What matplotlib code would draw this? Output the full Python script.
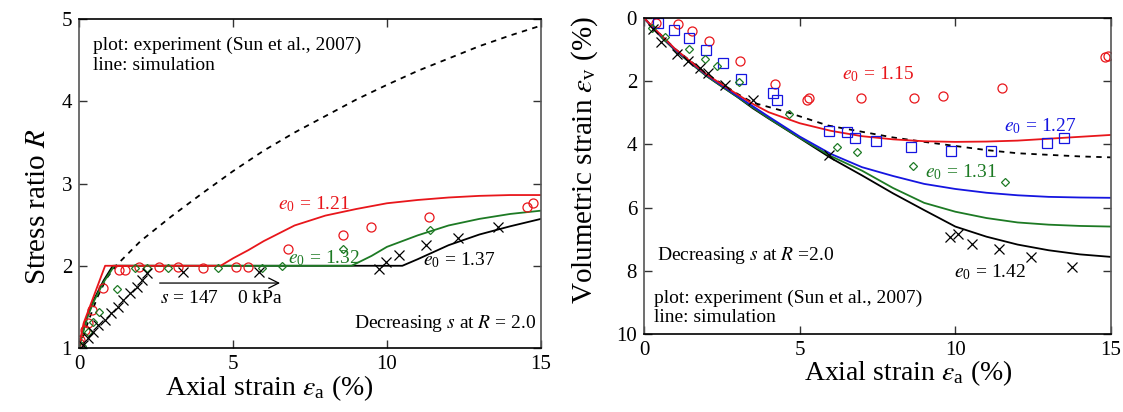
import numpy as np
import matplotlib
matplotlib.use("Agg")
import matplotlib.pyplot as plt

plt.rcParams['font.family'] = ['Liberation Serif', 'DejaVu Serif']
plt.rcParams['mathtext.fontset'] = 'stix'

RED = '#e8161b'
GREEN = '#1d7a24'
BLUE = '#1515e0'

# ---------------- left panel: stress ratio ----------------
# simulation lines
dash_x = [0, 0.3, 0.6, 0.9, 1.2, 2, 3, 4, 5, 6, 7, 8, 9, 10, 11, 12, 13, 14, 15]
dash_r = [1, 1.32, 1.62, 1.85, 2.0, 2.3, 2.6, 2.88, 3.15, 3.4, 3.62, 3.82, 4.02, 4.2, 4.37, 4.52, 4.67, 4.8, 4.92]

red_x = [0, 0.05, 0.15, 0.35, 0.6, 0.85, 4.6, 5.0, 5.5, 6, 7, 8, 9, 10, 11, 12, 13, 14, 15]
red_r = [1, 1.12, 1.3, 1.5, 1.75, 2.0, 2.0, 2.09, 2.19, 2.3, 2.49, 2.61, 2.69, 2.76, 2.8, 2.83, 2.85, 2.86, 2.86]

grn_x = [0, 0.1, 0.3, 0.5, 0.8, 1.15, 8.85, 9.5, 10, 11, 11.5, 12, 13, 14, 15]
grn_r = [1, 1.15, 1.4, 1.58, 1.8, 2.0, 2.0, 2.12, 2.23, 2.37, 2.43, 2.49, 2.57, 2.63, 2.67]

blk_x = [0, 0.1, 0.3, 0.5, 0.8, 1.1, 10.5, 11, 12, 13, 14, 15]
blk_r = [1, 1.16, 1.42, 1.6, 1.82, 2.0, 2.0, 2.08, 2.25, 2.38, 2.48, 2.57]

# experiment points
exp121_x = [0.0, 0.05, 0.2, 0.3, 0.42, 0.77, 1.3, 1.5, 1.95, 2.6, 3.2, 4.03, 5.1, 5.5, 6.8, 8.57, 9.48, 11.36, 14.55, 14.75]
exp121_r = [1.06, 1.1, 1.22, 1.3, 1.46, 1.73, 1.95, 1.95, 1.98, 1.98, 1.98, 1.97, 1.98, 1.98, 2.2, 2.38, 2.47, 2.59, 2.72, 2.76]

exp132_x = [0.1, 0.29, 0.45, 0.65, 1.23, 1.82, 2.2, 2.9, 4.5, 5.95, 6.6, 8.57, 11.4]
exp132_r = [1.03, 1.2, 1.32, 1.44, 1.72, 1.97, 1.97, 1.97, 1.97, 1.97, 2.0, 2.2, 2.43]

exp137_x = [0.13, 0.29, 0.45, 0.62, 0.84, 1.04, 1.27, 1.43, 1.66, 1.88, 2.05, 2.21, 3.38, 5.85, 9.74, 9.96, 10.39, 11.27, 12.3, 13.6]
exp137_r = [1.04, 1.12, 1.2, 1.28, 1.34, 1.42, 1.5, 1.58, 1.67, 1.74, 1.83, 1.91, 1.92, 1.92, 1.96, 2.05, 2.13, 2.25, 2.34, 2.47]

# ---------------- right panel: volumetric strain ----------------
v_dash_x = [0, 0.3, 1, 2, 3, 3.5, 4.5, 5.9, 7, 8, 9, 10, 11, 12, 13, 14, 15]
v_dash = [0, 0.3, 0.98, 1.76, 2.4, 2.68, 2.95, 3.4, 3.6, 3.78, 3.92, 4.05, 4.18, 4.28, 4.33, 4.38, 4.41]

v_red_x = [0, 0.3, 1, 2, 2.5, 3, 3.5, 4, 5, 6, 7, 8, 9, 10, 11, 12, 13, 14, 15]
v_red = [0, 0.3, 0.98, 1.78, 2.1, 2.42, 2.72, 2.98, 3.33, 3.57, 3.74, 3.84, 3.9, 3.92, 3.91, 3.88, 3.82, 3.76, 3.7]

v_blue_x = [0, 0.3, 1, 2, 3, 4, 5, 6, 7, 8, 9, 10, 11, 12, 13, 14, 15]
v_blue = [0, 0.32, 1.0, 1.8, 2.47, 3.12, 3.75, 4.3, 4.72, 5.0, 5.25, 5.41, 5.53, 5.61, 5.66, 5.68, 5.69]

v_grn_x = [0, 0.3, 1, 2, 3, 4, 5, 6, 7, 8, 9, 10, 11, 12, 13, 14, 15]
v_grn = [0, 0.33, 1.02, 1.83, 2.5, 3.17, 3.79, 4.37, 4.83, 5.38, 5.85, 6.13, 6.33, 6.47, 6.54, 6.58, 6.6]

v_blk_x = [0, 0.3, 0.6, 1, 1.5, 2, 2.5, 3, 3.5, 4, 5, 6, 7, 8, 9, 10, 11, 12, 13, 14, 15]
v_blk = [0, 0.33, 0.65, 1.02, 1.43, 1.83, 2.17, 2.5, 2.86, 3.18, 3.8, 4.43, 4.98, 5.55, 6.08, 6.6, 6.92, 7.17, 7.35, 7.48, 7.56]

v115_x = [0.38, 1.08, 1.55, 2.1, 3.07, 4.2, 5.24, 5.3, 6.96, 8.68, 9.6, 11.5, 14.8, 14.9]
v115 = [0.15, 0.2, 0.41, 0.74, 1.36, 2.1, 2.6, 2.52, 2.54, 2.54, 2.47, 2.23, 1.24, 1.2]

v127_x = [0.45, 0.96, 1.45, 1.99, 2.54, 3.13, 4.15, 4.28, 5.95, 6.53, 6.78, 7.46, 8.58, 9.87, 11.13, 12.93, 13.5]
v127 = [0.16, 0.38, 0.64, 1.01, 1.43, 1.93, 2.38, 2.59, 3.58, 3.61, 3.8, 3.9, 4.08, 4.2, 4.2, 3.95, 3.81]

v131_x = [0.26, 0.68, 1.45, 1.96, 2.35, 3.05, 4.66, 6.2, 6.85, 8.65, 11.6]
v131 = [0.32, 0.6, 0.98, 1.3, 1.52, 2.03, 3.04, 4.08, 4.24, 4.68, 5.19]

v142_x = [0.29, 0.55, 1.06, 1.41, 1.8, 2.06, 2.6, 3.5, 5.95, 9.82, 10.07, 10.52, 11.39, 12.44, 13.76]
v142 = [0.35, 0.76, 1.14, 1.36, 1.58, 1.74, 2.12, 2.6, 4.34, 6.93, 6.84, 7.15, 7.31, 7.56, 7.88]

fig = plt.figure(figsize=(11.23, 4.12), dpi=100)
ax1 = fig.add_axes([0.0703, 0.1553, 0.4114, 0.7985])
ax2 = fig.add_axes([0.5735, 0.1893, 0.4158, 0.767])

TXT = 14


def style_axes(ax):
    ax.tick_params(direction='in', length=6, width=1, top=True, right=True,
                   labelsize=15, pad=5, color='#333333')
    for side in ['left', 'right']:
        ax.spines[side].set_color('#555555')
    for side in ['top', 'bottom']:
        ax.spines[side].set_color('black')
    for sp in ax.spines.values():
        sp.set_linewidth(1.2)


# ---- left ----
ax1.plot(dash_x, dash_r, color='black', ls=(0, (3, 3)), lw=1.3)
ax1.plot(blk_x, blk_r, color='black', lw=1.3)
ax1.plot(grn_x, grn_r, color=GREEN, lw=1.3)
ax1.plot(red_x, red_r, color=RED, lw=1.3)

ax1.plot(exp121_x, exp121_r, 'o', ms=6.5, mfc='none', mec=RED, mew=0.9)
ax1.plot(exp132_x, exp132_r, 'D', ms=4, mfc='none', mec=GREEN, mew=0.9)
ax1.plot(exp137_x, exp137_r, 'x', ms=7, color='black', mew=0.9)

ax1.set_xlim(0, 15)
ax1.set_ylim(1, 5)
ax1.set_xticks([0, 5, 10, 15])
ax1.set_yticks([1, 2, 3, 4, 5])
style_axes(ax1)

ax1.text(0.45, 4.68, 'plot: experiment (Sun et al., 2007)', fontsize=TXT, va='center')
ax1.text(0.45, 4.44, 'line: simulation', fontsize=TXT, va='center')
ax1.text(8.93, 1.30, r'Decreasing $s$ at $R$ = 2.0', fontsize=TXT, va='center')
ax1.text(2.63, 1.60, r'$s$ = 147    0 kPa', fontsize=TXT, va='center')
ax1.annotate('', xy=(6.62, 1.79), xytext=(2.53, 1.79),
             arrowprops=dict(arrowstyle='->', color='black', lw=0.9, mutation_scale=18))
ax1.text(6.46, 2.69, r'$e_{\mathregular{0}}$ = 1.21', fontsize=TXT, color=RED, va='baseline')
ax1.text(6.8, 2.03, r'$e_{\mathregular{0}}$ = 1.32', fontsize=TXT, color=GREEN, va='baseline')
ax1.text(11.17, 2.01, r'$e_{\mathregular{0}}$ = 1.37', fontsize=TXT, color='black', va='baseline')

ax1.set_xlabel(r'Axial strain $\varepsilon_{\mathregular{a}}$ (%)', fontsize=20)
ax1.xaxis.set_label_coords(0.413, -0.078)
ax1.set_ylabel(r'Stress ratio $R$', fontsize=21)
ax1.yaxis.set_label_coords(-0.06, 0.43)

# ---- right ----
ax2.plot(v_dash_x, v_dash, color='black', ls=(0, (3, 3)), lw=1.3)
ax2.plot(v_blk_x, v_blk, color='black', lw=1.3)
ax2.plot(v_grn_x, v_grn, color=GREEN, lw=1.3)
ax2.plot(v_blue_x, v_blue, color=BLUE, lw=1.3)
ax2.plot(v_red_x, v_red, color=RED, lw=1.3)

ax2.plot(v115_x, v115, 'o', ms=6.5, mfc='none', mec=RED, mew=0.9)
ax2.plot(v127_x, v127, 's', ms=6.5, mfc='none', mec=BLUE, mew=0.9)
ax2.plot(v131_x, v131, 'D', ms=4, mfc='none', mec=GREEN, mew=0.9)
ax2.plot(v142_x, v142, 'x', ms=7, color='black', mew=0.9)

ax2.set_xlim(0, 15)
ax2.set_ylim(10, 0)
ax2.set_xticks([0, 5, 10, 15])
ax2.set_yticks([0, 2, 4, 6, 8, 10])
style_axes(ax2)

ax2.text(0.42, 7.53, r'Decreasing $s$ at $R$ =2.0', fontsize=TXT, va='center')
ax2.text(0.32, 8.86, 'plot: experiment (Sun et al., 2007)', fontsize=TXT, va='center')
ax2.text(0.32, 9.49, 'line: simulation', fontsize=TXT, va='center')
ax2.text(6.37, 1.94, r'$e_{\mathregular{0}}$ = 1.15', fontsize=TXT, color=RED, va='baseline')
ax2.text(11.55, 3.58, r'$e_{\mathregular{0}}$ = 1.27', fontsize=TXT, color=BLUE, va='baseline')
ax2.text(9.04, 5.04, r'$e_{\mathregular{0}}$ = 1.31', fontsize=TXT, color=GREEN, va='baseline')
ax2.text(9.97, 8.22, r'$e_{\mathregular{0}}$ = 1.42', fontsize=TXT, color='black', va='baseline')

ax2.set_xlabel(r'Axial strain $\varepsilon_{\mathregular{a}}$ (%)', fontsize=20)
ax2.xaxis.set_label_coords(0.565, -0.078)
ax2.set_ylabel(r'Volumetric strain $\varepsilon_{\mathregular{v}}$ (%)', fontsize=21)
ax2.yaxis.set_label_coords(-0.094, 0.55)

fig.savefig('out.png', dpi=100)
